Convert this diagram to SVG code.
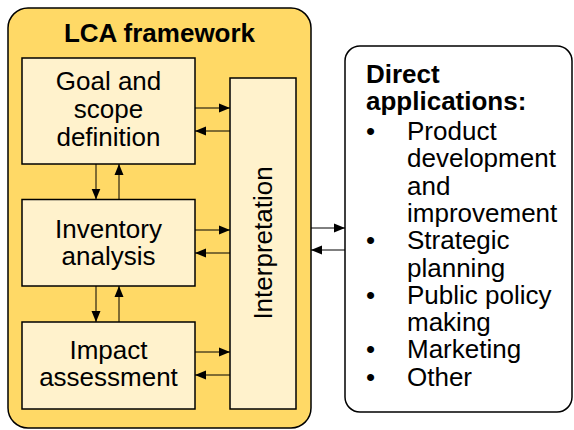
<svg xmlns="http://www.w3.org/2000/svg" width="574" height="430" viewBox="0 0 574 430">
<style>
text{font-family:"Liberation Sans",Arial,sans-serif;font-size:26px;fill:#000}
.b{font-weight:bold}
.m{text-anchor:middle}
.box{fill:#FFF2CC;stroke:#000;stroke-width:1.5}
.ln{stroke:#000;stroke-width:1;fill:none;marker-end:url(#ah)}
</style>
<defs>
<marker id="ah" markerUnits="userSpaceOnUse" markerWidth="12" markerHeight="10" viewBox="0 0 12 10" refX="11" refY="5" orient="auto">
<path d="M0,0.5 L11,5 L0,9.5 Z" fill="#000"/>
</marker>
</defs>
<g id="frame">
<rect x="8" y="8" width="303" height="420" rx="20" fill="#FFD966" stroke="#000" stroke-width="1.5"/>
<text class="b m" x="159.5" y="41.5">LCA framework</text>
</g>
<g id="goal">
<rect class="box" x="22" y="58" width="173" height="106"/>
<text class="m" x="108.5" y="90">Goal and</text>
<text class="m" x="108.5" y="118">scope</text>
<text class="m" x="108.5" y="146">definition</text>
</g>
<g id="inventory">
<rect class="box" x="22" y="199.5" width="173" height="86.5"/>
<text class="m" x="108.5" y="237.5">Inventory</text>
<text class="m" x="108.5" y="264.8">analysis</text>
</g>
<g id="impact">
<rect class="box" x="22" y="322" width="173" height="87"/>
<text class="m" x="108.5" y="358.5">Impact</text>
<text class="m" x="108.5" y="386">assessment</text>
</g>
<g id="interpretation">
<rect class="box" x="230" y="78" width="66" height="331"/>
<text class="m" transform="translate(272,243) rotate(-90)">Interpretation</text>
</g>
<g id="applications">
<rect x="345" y="46" width="227" height="366" rx="15" fill="#fff" stroke="#000" stroke-width="1.5"/>
<text class="b" x="366" y="82.5">Direct</text>
<text class="b" x="366" y="110">applications:</text>
<text x="366" y="140">•</text><text x="407" y="140">Product</text>
<text x="407" y="167.3">development</text>
<text x="407" y="194.6">and</text>
<text x="407" y="221.9">improvement</text>
<text x="366" y="249.2">•</text><text x="407" y="249.2">Strategic</text>
<text x="407" y="276.5">planning</text>
<text x="366" y="303.8">•</text><text x="407" y="303.8">Public policy</text>
<text x="407" y="331.1">making</text>
<text x="366" y="358.4">•</text><text x="407" y="358.4">Marketing</text>
<text x="366" y="385.7">•</text><text x="407" y="385.7">Other</text>
</g>
<g id="connectors">
<line class="ln" x1="195" y1="108" x2="230" y2="108"/>
<line class="ln" x1="230" y1="131" x2="195" y2="131"/>
<line class="ln" x1="195" y1="230" x2="230" y2="230"/>
<line class="ln" x1="230" y1="253" x2="195" y2="253"/>
<line class="ln" x1="195" y1="352" x2="230" y2="352"/>
<line class="ln" x1="230" y1="375" x2="195" y2="375"/>
<line class="ln" x1="96" y1="164" x2="96" y2="199.5"/>
<line class="ln" x1="119" y1="199.5" x2="119" y2="164"/>
<line class="ln" x1="96" y1="286" x2="96" y2="322"/>
<line class="ln" x1="119" y1="322" x2="119" y2="286"/>
<line class="ln" x1="311" y1="228" x2="345" y2="228"/>
<line class="ln" x1="345" y1="250" x2="311" y2="250"/>
</g>
</svg>
